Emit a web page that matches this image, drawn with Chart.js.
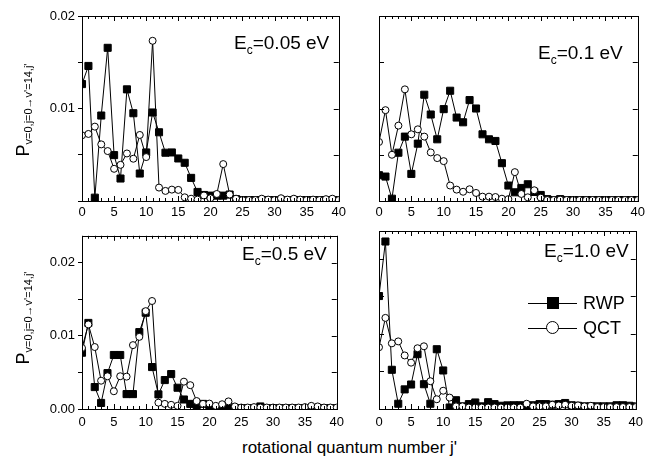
<!DOCTYPE html>
<html>
<head>
<meta charset="utf-8">
<script src="https://cdn.jsdelivr.net/npm/chart.js@4/dist/chart.umd.min.js"></script>
<style>
  body { margin: 0; background: #fff; }
  #wrap { position: relative; width: 649px; height: 458px; background: #fff; font-family: "Liberation Sans", Arial, sans-serif; color: #000; overflow: hidden; }
  canvas { position: absolute; }
  .ytitle { position: absolute; width: 130px; height: 24px; line-height: 24px; text-align: center; font-size: 18px; transform: rotate(-90deg); white-space: nowrap; }
  .ytitle sub { font-size: 11px; vertical-align: -0.3em; line-height: 0; }
  .elab { position: absolute; font-size: 19px; line-height: 19px; white-space: nowrap; }
  .elab sub { font-size: 12px; vertical-align: -0.4em; line-height: 0; }
  .lg { position: absolute; font-size: 18px; line-height: 18px; white-space: nowrap; }
  .xtitle { position: absolute; font-size: 17px; line-height: 17px; white-space: nowrap; }
</style>
</head>
<body>
<div id="wrap">
  <canvas id="c1" width="350" height="225" style="left:0;top:0"></canvas>
  <canvas id="c2" width="299" height="225" style="left:350px;top:0"></canvas>
  <canvas id="c3" width="350" height="205" style="left:0;top:225px"></canvas>
  <canvas id="c4" width="299" height="205" style="left:350px;top:225px"></canvas>

  <div class="ytitle" style="left:-42px;top:98px">P<sub>v=0,j=0→v'=14,j'</sub></div>
  <div class="ytitle" style="left:-42px;top:306px">P<sub>v=0,j=0→v'=14,j'</sub></div>

  <div class="elab" style="left:234px;top:33px">E<sub>c</sub>=0.05 eV</div>
  <div class="elab" style="left:538px;top:43px">E<sub>c</sub>=0.1 eV</div>
  <div class="elab" style="left:242px;top:244px">E<sub>c</sub>=0.5 eV</div>
  <div class="elab" style="left:544px;top:241px">E<sub>c</sub>=1.0 eV</div>

  <div style="position:absolute;left:528px;top:303px;width:49px;height:1px;background:#000"></div>
  <div style="position:absolute;left:547px;top:297px;width:12px;height:12px;background:#000"></div>
  <div class="lg" style="left:583px;top:294px">RWP</div>
  <div style="position:absolute;left:528px;top:328px;width:49px;height:1px;background:#000"></div>
  <div style="position:absolute;left:546px;top:321px;width:13px;height:13px;border:1px solid #000;border-radius:50%;background:#fff;box-sizing:border-box"></div>
  <div class="lg" style="left:583px;top:319px">QCT</div>

  <div class="xtitle" style="left:242px;top:439px">rotational quantum number j'</div>
</div>
<script>
Chart.defaults.font.family = '"Liberation Sans", Arial, sans-serif';
Chart.defaults.color = '#000';

// rotational quantum number j'
let jVals = [0, 1, 2, 3, 4, 5, 6, 7, 8, 9, 10, 11, 12, 13, 14, 15, 16, 17, 18, 19, 20,
  21, 22, 23, 24, 25, 26, 27, 28, 29, 30, 31, 32, 33, 34, 35, 36, 37, 38, 39, 40];

// Ec = 0.05 eV
let rwp005 = [0.01264, 0.0146, 0.00036, 0.00924, 0.01656, 0.00496, 0.00243, 0.01207, 0.00949, 0.00297,
  0.00525, 0.00957, 0.00743, 0.00522, 0.00525, 0.0046, 0.00413, 0.0025, 0.00098, 0.00065,
  0.00058, 0.00058, 0.00058, 0.0007, 0.0002, 0.0001, 0.0001, 0.0001, 0.0001, 0.0001,
  0.0001, 0.0001, 0.0001, 0.0001, 0.0001, 0.0001, 0.0001, 0.0001, 0.0001, 0.0001, 0.0001];
let qct005 = [0.0071, 0.00725, 0.00804, 0.00612, 0.0054, 0.00348, 0.00391, 0.00514, 0.00457, 0.00714,
  0.00475, 0.01732, 0.00145, 0.00109, 0.00123, 0.0012, 0.0004, 0.00025, 0.00015, 0.0006,
  0.0003, 0.00076, 0.00399, 0.0007, 0.00025, 0.0001, 0.0001, 0.0001, 0.00025, 0.00015,
  0.0001, 0.0003, 0.00015, 0.00025, 0.00015, 0.0001, 0.00015, 0.0001, 0.0002, 0.00025, 0.0001];

// Ec = 0.1 eV
let rwp01 = [0.00279, 0.00264, 0.00025, 0.00522, 0.00696, 0.00293, 0.0062, 0.01149, 0.00935, 0.00667,
  0.00993, 0.01192, 0.00902, 0.00851, 0.01091, 0.01, 0.00721, 0.00667, 0.00649, 0.00409,
  0.00167, 0.00094, 0.00141, 0.00181, 0.00098, 0.00065, 0.0002, 0.0001, 0.0002, 0.0001,
  0.0001, 0.0001, 0.0001, 0.0001, 0.0001, 0.0001, 0.0001, 0.0001, 0.0001, 0.0001, 0.0001];
let qct01 = [0.00638, 0.00982, 0.005, 0.00815, 0.01207, 0.00721, 0.00775, 0.00696, 0.00525, 0.00464,
  0.00431, 0.00167, 0.00123, 0.001, 0.00127, 0.00087, 0.00047, 0.00047, 0.00043, 0.00025,
  0.0002, 0.00312, 0.00076, 0.0004, 0.00116, 0.00036, 0.0001, 0.0001, 0.00015, 0.0001,
  0.0001, 0.0001, 0.0001, 0.0001, 0.0001, 0.0001, 0.0001, 0.0001, 0.0001, 0.0001, 0.0001];

// Ec = 0.5 eV
let rwp05 = [0.0077, 0.01178, 0.003, 0.00083, 0.00491, 0.00739, 0.00739, 0.00204, 0.00204, 0.01052,
  0.01317, 0.00574, 0.002, 0.00396, 0.00478, 0.00291, 0.0013, 0.0007, 0.0005, 0.0007,
  0.00026, 0.0002, 0.00026, 0.00035, 0.0001, 0.0001, 0.0001, 0.0001, 0.00035, 0.0001,
  0.0001, 0.0001, 0.0001, 0.0001, 0.0001, 0.0001, 0.0001, 0.0001, 0.0001, 0.0001, 0.0001];
let qct05 = [0.00835, 0.01157, 0.00848, 0.00387, 0.00448, 0.00243, 0.00448, 0.00443, 0.00874, 0.00987,
  0.01339, 0.01478, 0.00087, 0.0007, 0.00057, 0.00043, 0.00374, 0.00326, 0.00109, 0.0007,
  0.00074, 0.00043, 0.00065, 0.00104, 0.00035, 0.0002, 0.0002, 0.00026, 0.0002, 0.0002,
  0.0002, 0.0002, 0.0002, 0.0002, 0.0002, 0.00026, 0.00043, 0.00035, 0.0002, 0.0002, 0.0002];

// Ec = 1.0 eV
let rwp10 = [0.01504, 0.0223, 0.00522, 0.0007, 0.00261, 0.00326, 0.0073, 0.0033, 0.0007, 0.00796,
  0.00513, 0.0002, 0.00117, 0.00035, 0.00065, 0.00087, 0.00035, 0.00091, 0.00065, 0.00043,
  0.00048, 0.0005, 0.0005, 0.00043, 0.0005, 0.00065, 0.00065, 0.00057, 0.00065, 0.0008,
  0.0005, 0.00043, 0.00035, 0.00035, 0.00035, 0.00035, 0.00035, 0.0005, 0.0005, 0.00043, 0.00035];
let qct10 = [0.00822, 0.01213, 0.00874, 0.009, 0.00713, 0.00617, 0.00809, 0.00835, 0.0037, 0.0013,
  0.00243, 0.00152, 0.00035, 0.00035, 0.0002, 0.0002, 0.0002, 0.0002, 0.0002, 0.0002,
  0.0002, 0.0002, 0.0002, 0.0007, 0.00035, 0.00035, 0.00035, 0.00057, 0.00048, 0.00057,
  0.00043, 0.00048, 0.00035, 0.00043, 0.00026, 0.00026, 0.00026, 0.00026, 0.00026, 0.00026, 0.00026];

// box frame + inward ticks
let frame = {
  id: "frame",
  afterDraw(chart) {
    let ctx = chart.ctx, a = chart.chartArea;
    let xs = chart.scales.x, ys = chart.scales.y;
    let innerLeft = chart.options.plugins.frame.innerLeft;
    ctx.save();
    ctx.strokeStyle = "#000";
    ctx.lineWidth = 1;
    ctx.strokeRect(Math.round(a.left) + 0.5, Math.round(a.top) + 0.5,
      Math.round(a.right - a.left), Math.round(a.bottom - a.top));
    ctx.beginPath();
    for (let v = 0; v <= 40; v++) {
      let px = Math.round(xs.getPixelForValue(v)) + 0.5;
      let len = v % 5 === 0 ? 5 : 3;
      ctx.moveTo(px, a.bottom); ctx.lineTo(px, a.bottom - len);
      ctx.moveTo(px, a.top); ctx.lineTo(px, a.top + len);
    }
    ys.ticks.forEach(t => {
      let py = Math.round(ys.getPixelForValue(t.value)) + 0.5;
      ctx.moveTo(a.right, py); ctx.lineTo(a.right - 5, py);
      if (innerLeft) { ctx.moveTo(a.left, py); ctx.lineTo(a.left + 5, py); }
    });
    ctx.stroke();
    ctx.restore();
  }
};

function pts(arr) {
  return jVals.map((j, i) => ({ x: j, y: arr[i] }));
}

function makeConfig(rwp, qct, p) {
  return {
    type: "line",
    data: {
      datasets: [
        {
          label: "RWP",
          data: pts(rwp),
          borderColor: "#000",
          borderWidth: 1,
          backgroundColor: "#000",
          pointStyle: "rect",
          pointRadius: 5,
          pointBorderWidth: 1,
          pointBackgroundColor: "#000",
          pointBorderColor: "#000",
          tension: 0,
          order: 1
        },
        {
          label: "QCT",
          data: pts(qct),
          borderColor: "#000",
          borderWidth: 1,
          backgroundColor: "#fff",
          pointStyle: "circle",
          pointRadius: 3.5,
          pointBorderWidth: 1,
          pointBackgroundColor: "#fff",
          pointBorderColor: "#000",
          tension: 0,
          order: 0
        }
      ]
    },
    options: {
      responsive: false,
      animation: false,
      devicePixelRatio: 1,
      layout: { padding: p.pad },
      plugins: {
        legend: { display: false },
        tooltip: { enabled: false },
        frame: { innerLeft: !p.yLabels }
      },
      scales: {
        x: {
          type: "linear",
          min: 0,
          max: 40,
          ticks: { stepSize: 5, padding: p.xPad, font: { size: 13 }, color: "#000", maxRotation: 0 },
          grid: { display: false, drawTicks: false },
          border: { display: false },
          afterFit: s => { s.height = p.xH; }
        },
        y: {
          min: 0,
          max: p.yMax,
          ticks: {
            stepSize: 0.005,
            includeBounds: false,
            display: p.yLabels,
            padding: 3,
            font: { size: 13 },
            color: "#000",
            callback: v => {
              let k = Math.round(v * 1000);
              if (k % 10 !== 0) return "";
              if (k === 0 && !p.zero) return "";
              return v.toFixed(2);
            }
          },
          grid: {
            display: true,
            drawOnChartArea: false,
            drawTicks: p.yLabels,
            tickLength: 4,
            color: "#000"
          },
          border: { display: false },
          afterFit: s => { s.width = p.yW; }
        }
      }
    },
    plugins: [frame]
  };
}

window.onload = function () {
  new Chart(document.getElementById("c1"), makeConfig(rwp005, qct005,
    { pad: { top: 16, right: 7, left: 0, bottom: 0 }, yMax: 0.02, yLabels: true, zero: false, yW: 82, xH: 24, xPad: 4 }));
  new Chart(document.getElementById("c2"), makeConfig(rwp01, qct01,
    { pad: { top: 16, right: 10, left: 0, bottom: 0 }, yMax: 0.02, yLabels: false, zero: false, yW: 29, xH: 24, xPad: 4 }));
  new Chart(document.getElementById("c3"), makeConfig(rwp05, qct05,
    { pad: { top: 3, right: 7, left: 0, bottom: 0 }, yMax: 0.0237, yLabels: true, zero: true, yW: 82, xH: 21, xPad: 6 }));
  new Chart(document.getElementById("c4"), makeConfig(rwp10, qct10,
    { pad: { top: 3, right: 10, left: 0, bottom: 0 }, yMax: 0.0237, yLabels: false, zero: true, yW: 29, xH: 21, xPad: 6 }));
};
</script>
</body>
</html>
